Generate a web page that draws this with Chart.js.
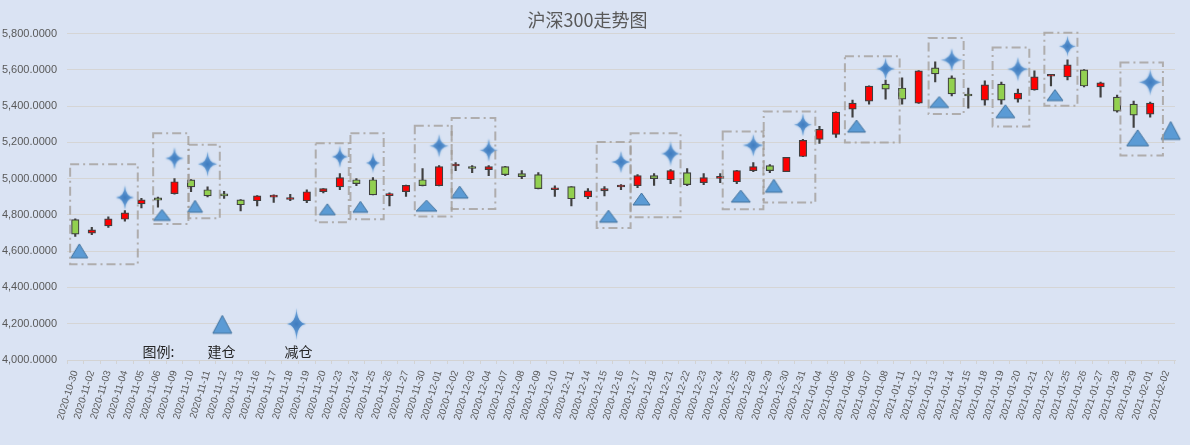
<!DOCTYPE html>
<html><head><meta charset="utf-8">
<script src="https://cdn.jsdelivr.net/npm/chart.js@4.4.1/dist/chart.umd.min.js"></script>
<style>html,body{margin:0;padding:0;background:#DAE3F3;overflow:hidden}</style>
</head><body>
<canvas id="c" width="1190" height="445"></canvas>
<script>
// ---------- data ----------
const dates = ['2020-10-30','2020-11-02','2020-11-03','2020-11-04','2020-11-05','2020-11-06','2020-11-09','2020-11-10','2020-11-11','2020-11-12','2020-11-13','2020-11-16','2020-11-17','2020-11-18','2020-11-19','2020-11-20','2020-11-23','2020-11-24','2020-11-25','2020-11-26','2020-11-27','2020-11-30','2020-12-01','2020-12-02','2020-12-03','2020-12-04','2020-12-07','2020-12-08','2020-12-09','2020-12-10','2020-12-11','2020-12-14','2020-12-15','2020-12-16','2020-12-17','2020-12-18','2020-12-21','2020-12-22','2020-12-23','2020-12-24','2020-12-25','2020-12-28','2020-12-29','2020-12-30','2020-12-31','2021-01-04','2021-01-05','2021-01-06','2021-01-07','2021-01-08','2021-01-11','2021-01-12','2021-01-13','2021-01-14','2021-01-15','2021-01-18','2021-01-19','2021-01-20','2021-01-21','2021-01-22','2021-01-25','2021-01-26','2021-01-27','2021-01-28','2021-01-29','2021-02-01','2021-02-02'];
const openP  = [4774,4700,4739,4776,4861,4894,4917,4993,4939,4917,4883,4878,4898,4885,4878,4928,4955,4994,4994,4906,4928,4994,4961,5070,5067,5050,5067,5028,5022,4939,4956,4900,4933,4954,4961,5017,4994,5033,4978,5002,4983,5044,5072,5039,5122,5217,5244,5383,5428,5522,5500,5417,5611,5556,5467,5433,5522,5439,5489,5565,5561,5600,5506,5450,5411,5356,null];
const highP  = [4778,4731,4789,4824,4891,4898,5000,4995,4955,4930,4885,4907,4911,4913,4939,4946,5028,5000,5006,4922,4965,5056,5072,5089,5072,5072,5068,5044,5033,4961,4957,4945,4956,4967,5022,5028,5050,5056,5028,5028,5046,5089,5078,5117,5217,5289,5368,5433,5512,5544,5556,5596,5644,5567,5500,5539,5533,5494,5594,5570,5656,5601,5533,5461,5428,5422,null];
const lowP   = [4681,4691,4731,4765,4839,4843,4915,4928,4900,4891,4822,4850,4869,4878,4867,4922,4939,4961,4910,4850,4902,4960,4960,5044,5033,5017,5017,5000,4944,4902,4850,4889,4905,4939,4950,4963,4972,4961,4967,4978,4972,5039,5033,5038,5121,5194,5228,5339,5411,5439,5411,5415,5533,5456,5389,5406,5411,5422,5488,5511,5544,5506,5450,5367,5283,5339,null];
const closeP = [4694,4718,4778,4811,4883,4881,4983,4955,4905,4905,4856,4905,4898,4885,4928,4945,5006,4972,4911,4918,4963,4961,5067,5070,5056,5067,5022,5011,4945,4939,4889,4933,4945,4954,5017,5000,5044,4967,5006,5002,5044,5067,5044,5117,5211,5272,5367,5417,5511,5494,5439,5594,5578,5467,5456,5517,5433,5472,5561,5565,5628,5511,5528,5372,5350,5417,null];

// 建仓 (build position) markers
const buildDates  = ['2020-10-30','2020-11-06','2020-11-10','2020-11-20','2020-11-24','2020-11-30','2020-12-02','2020-12-15','2020-12-17','2020-12-25','2020-12-29','2021-01-06','2021-01-13','2021-01-19','2021-01-22','2021-01-29','2021-02-02'];
const buildValues = [4602,4800,4848,4831,4845,4851,4926,4793,4888,4904,4961,5290,5423,5372,5461,5225,5266];
// 减仓 (reduce position) markers
const reduceDates  = ['2020-11-04','2020-11-09','2020-11-11','2020-11-23','2020-11-25','2020-12-01','2020-12-04','2020-12-16','2020-12-21','2020-12-28','2020-12-31','2021-01-08','2021-01-14','2021-01-20','2021-01-25','2021-02-01'];
const reduceValues = [4896,5112,5080,5121,5087,5181,5157,5092,5138,5184,5298,5606,5655,5604,5730,5532];

// dashed grouping boxes (category index range, value range)
const boxFrom = [-0.31,4.71,6.86,14.54,16.64,20.53,22.76,31.53,33.58,39.15,41.63,46.54,51.6,55.47,58.6,63.2];
const boxTo   = [3.78,6.84,8.74,16.54,18.65,22.76,25.4,33.58,36.6,41.61,44.75,49.85,53.72,57.69,60.6,65.77];
const boxLow  = [4528,4750,4782,4760,4776,4791,4833,4728,4787,4831,4868,5199,5356,5288,5402,5128];
const boxHigh = [5080,5251,5187,5196,5251,5292,5334,5202,5251,5260,5371,5675,5776,5724,5804,5641];

const yMin = 4000, yMax = 5800, yStep = 200;
const titleText = '沪深300走势图';

// ---------- styles ----------
const UP = '#FF0000', DOWN = '#92D050', EDGE = '#404040';
const triW = [17,17,15,16,15,21,17,18,17,19,17,18,19,19,16,22,19];
const triH = [14,11,12,11,11,11,12,12,12,12,13,12,11,13,11,16,18];
const starW = [18,18,19,16,14,19,18,19,20,21,18,19,22,21,17,23];
const starH = [24,22,25,22,21,23,23,22,26,22,23,22,23,24,21,27];

function triCanvas(w, h, dx) {
  const pad = 2;
  const c = document.createElement('canvas');
  c.width = Math.ceil(w + 2 * pad + 2 * Math.abs(dx));
  c.height = Math.ceil(h + 2 * pad);
  const g = c.getContext('2d');
  const cx = c.width / 2 + dx, top = (c.height - h) / 2;
  g.beginPath();
  g.moveTo(cx, top);
  g.lineTo(cx + w / 2, top + h);
  g.lineTo(cx - w / 2, top + h);
  g.closePath();
  g.fillStyle = '#5B9BD5';
  g.fill();
  g.strokeStyle = '#41719C';
  g.lineWidth = 1;
  g.stroke();
  return c;
}
function starCanvas(w, h) {
  const pad = 4;
  const c = document.createElement('canvas');
  c.width = Math.ceil(w + 2 * pad);
  c.height = Math.ceil(h + 2 * pad);
  const g = c.getContext('2d');
  const cx = c.width / 2, cy = c.height / 2, a = w / 2, b = h / 2, k = 0.06;
  g.beginPath();
  g.moveTo(cx, cy - b);
  g.quadraticCurveTo(cx + a * k, cy - b * k, cx + a, cy);
  g.quadraticCurveTo(cx + a * k, cy + b * k, cx, cy + b);
  g.quadraticCurveTo(cx - a * k, cy + b * k, cx - a, cy);
  g.quadraticCurveTo(cx - a * k, cy - b * k, cx, cy - b);
  g.closePath();
  const grd = g.createRadialGradient(cx, cy, 0, cx, cy, Math.max(a, b));
  grd.addColorStop(0, '#3E7CC0');
  grd.addColorStop(1, '#79AADC');
  g.shadowColor = 'rgba(91,155,213,0.7)';
  g.shadowBlur = 2;
  g.fillStyle = grd;
  g.fill();
  return c;
}
const triImgs = triW.map((w, i) => triCanvas(w, triH[i], 4));
const starImgs = starW.map((w, i) => starCanvas(w, starH[i]));
const legendTri = triCanvas(19, 18, 0);
const legendStar = starCanvas(19, 32);

const CJK = '"Noto Sans CJK SC", "Noto Sans", sans-serif';

const bgPlugin = {
  id: 'bg',
  beforeDraw(chart) {
    const ctx = chart.ctx;
    ctx.save();
    ctx.fillStyle = '#DAE3F3';
    ctx.fillRect(0, 0, chart.width, chart.height);
    ctx.restore();
  }
};

const overlayPlugin = {
  id: 'overlay',
  afterDatasetsDraw(chart) {
    const { ctx, chartArea, scales: { x, y } } = chart;
    ctx.save();
    ctx.strokeStyle = 'rgba(160,155,150,0.75)';
    ctx.lineWidth = 2;
    ctx.setLineDash([9, 4, 2, 4]);
    for (let k = 0; k < boxFrom.length; k++) {
      const x0 = x.getPixelForValue(boxFrom[k]);
      const x1 = x.getPixelForValue(boxTo[k]);
      const y0 = y.getPixelForValue(boxHigh[k]);
      const y1 = y.getPixelForValue(boxLow[k]);
      ctx.strokeRect(x0, y0, x1 - x0, y1 - y0);
    }
    ctx.setLineDash([]);
    // legend
    const L = chartArea.left, B = chartArea.bottom;
    ctx.drawImage(legendTri, L + 155.3 - legendTri.width / 2, B - 35.7 - legendTri.height / 2);
    ctx.drawImage(legendStar, L + 229.5 - legendStar.width / 2, B - 36 - legendStar.height / 2);
    ctx.fillStyle = '#262626';
    ctx.font = '14px ' + CJK;
    ctx.textAlign = 'center';
    ctx.textBaseline = 'middle';
    ctx.fillText('图例:', L + 91.5, B - 8);
    ctx.fillText('建仓', L + 154.5, B - 8);
    ctx.fillText('减仓', L + 231.5, B - 8);
    ctx.restore();
  }
};

const bodies = openP.map((o, i) => (o === null ? null : [o, closeP[i]]));
const wicks = lowP.map((l, i) => (l === null ? null : [l, highP[i]]));
const bodyColors = openP.map((o, i) => (o === null ? DOWN : (closeP[i] >= o ? UP : DOWN)));

new Chart(document.getElementById('c'), {
  type: 'bar',
  data: {
    labels: dates,
    datasets: [
      {
        type: 'line', label: '建仓', order: 0, showLine: false, clip: false,
        data: buildDates.map((d, i) => ({ x: d, y: buildValues[i] })),
        pointStyle: (c) => triImgs[c.dataIndex], pointRadius: 8
      },
      {
        type: 'line', label: '减仓', order: 0, showLine: false, clip: false,
        data: reduceDates.map((d, i) => ({ x: d, y: reduceValues[i] })),
        pointStyle: (c) => starImgs[c.dataIndex], pointRadius: 8
      },
      {
        label: 'body', order: 1, data: bodies, grouped: false,
        backgroundColor: bodyColors, borderColor: EDGE, borderWidth: 1.2,
        borderSkipped: false, barThickness: 7.5, minBarLength: 2
      },
      {
        label: 'wick', order: 2, data: wicks, grouped: false,
        backgroundColor: EDGE, borderWidth: 0, barThickness: 1.5
      }
    ]
  },
  options: {
    responsive: false,
    animation: false,
    devicePixelRatio: 1,
    layout: { padding: { left: 0, right: 15, top: 0, bottom: 0 } },
    plugins: {
      legend: { display: false },
      tooltip: { enabled: false },
      title: {
        display: true, text: titleText, color: '#595959',
        font: { size: 18, family: CJK, weight: 'normal' },
        padding: { top: 9, bottom: 3 }
      }
    },
    scales: {
      x: {
        type: 'category', offset: true,
        grid: { display: true, drawOnChartArea: false, drawTicks: true, tickLength: 4, color: '#D3D3D3', offset: true },
        border: { display: true, color: '#D3D3D3' },
        ticks: {
          autoSkip: false, minRotation: 73, maxRotation: 73, padding: 5,
          color: '#595959', font: { size: 10, family: '"Liberation Sans", Arial, sans-serif' }
        },
        afterFit(s) { s.height = 85; }
      },
      y: {
        min: yMin, max: yMax,
        grid: { color: '#D5D5D5', drawTicks: false },
        border: { display: false },
        ticks: {
          stepSize: yStep, padding: 10, color: '#595959',
          font: { size: 11, family: '"Liberation Sans", Arial, sans-serif' },
          callback: (v) => Number(v).toLocaleString('en-US', { minimumFractionDigits: 4, maximumFractionDigits: 4 })
        },
        afterFit(s) { s.width = 67; }
      }
    }
  },
  plugins: [bgPlugin, overlayPlugin]
});
</script>
</body></html>
